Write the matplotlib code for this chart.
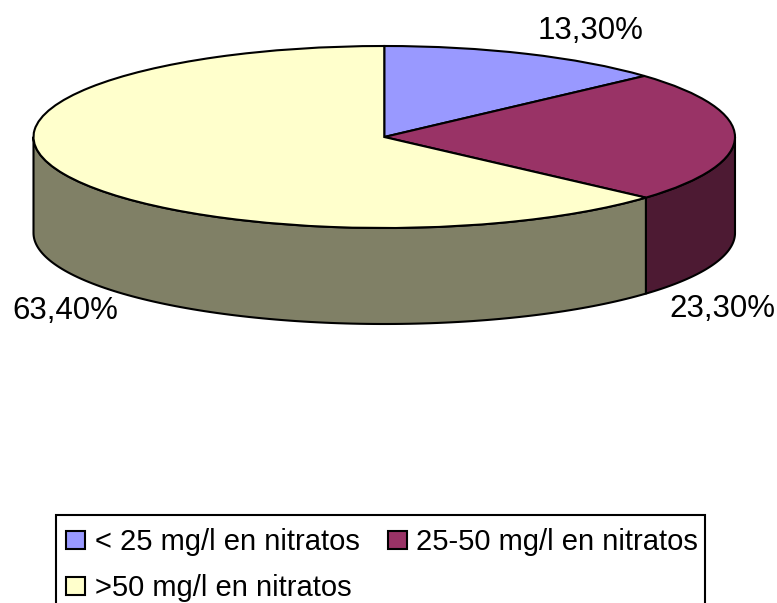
"""3D-look nitrate pie chart."""

import matplotlib

matplotlib.use("Agg")
import matplotlib.pyplot as plt
import numpy as np
from matplotlib.patches import Rectangle

CATEGORIES = ["< 25 mg/l en nitratos", "25-50 mg/l en nitratos", ">50 mg/l en nitratos"]
VALUES = [13.3, 23.3, 63.4]
TOP_COLORS = ["#9999FF", "#993366", "#FFFFCC"]
SIDE_COLORS = ["#4D4D80", "#4D1A33", "#808066"]

W, H = 777, 603
LEFT, RIGHT, TOP, BOTTOM = 33.5, 735, 46, 228
DEPTH = 96 / ((BOTTOM - TOP) / 2)
EDGE = 1.5

plt.rcParams["font.family"] = ["Liberation Sans", "DejaVu Sans"]

fig = plt.figure(figsize=(W / 100, H / 100), dpi=100, facecolor="white")
ax = fig.add_axes([LEFT / W, 1 - BOTTOM / H, (RIGHT - LEFT) / W, (BOTTOM - TOP) / H])

# top face
wedges, _ = ax.pie(
    VALUES,
    colors=TOP_COLORS,
    startangle=90,
    counterclock=False,
    wedgeprops={"edgecolor": "black", "linewidth": EDGE, "zorder": 3},
)
ax.set_aspect("auto")
ax.set_xlim(-1, 1)
ax.set_ylim(-1, 1)
ax.axis("off")

# side walls, only the part facing the viewer
bounds = np.concatenate([[0], np.cumsum(VALUES)]) / np.sum(VALUES) * 360
for i in range(len(VALUES)):
    a = max(bounds[i], 90)
    b = min(bounds[i + 1], 270)
    if b <= a:
        continue
    t = np.radians(np.linspace(a, b, 120))
    x = np.sin(t)
    y = np.cos(t)
    ax.fill(
        np.concatenate([x, x[::-1]]),
        np.concatenate([y, y[::-1] - DEPTH]),
        facecolor=SIDE_COLORS[i],
        edgecolor="black",
        linewidth=EDGE,
        joinstyle="round",
        clip_on=False,
        zorder=2,
    )

labels = [f"{v:.2f}".replace(".", ",") + "%" for v in VALUES]
label_pos = [(590.5, 31), (722, 309), (65.5, 311)]
for text, (px, py) in zip(labels, label_pos):
    fig.text(px / W, 1 - py / H, text, fontsize=22.5, ha="center", va="center", color="black")


def px_rect(x0, y0, x1, y1, **kwargs):
    # rectangle given in picture pixels, y down
    fig.add_artist(
        Rectangle((x0 / W, 1 - y1 / H), (x1 - x0) / W, (y1 - y0) / H, transform=fig.transFigure, **kwargs)
    )


# legend frame runs off the bottom of the picture
px_rect(55.5, 514.5, 705, 620, facecolor="white", edgecolor="black", linewidth=1.5)
legend_pos = [(66, 549, 95), (388, 549, 416), (66, 595, 95)]
for i, (hx, hy, tx) in enumerate(legend_pos):
    px_rect(hx, hy - 18, hx + 18.5, hy, facecolor=TOP_COLORS[i], edgecolor="black", linewidth=1.5)
    fig.text(
        tx / W,
        1 - (hy + 1.5) / H,
        CATEGORIES[i],
        fontsize=21,
        ha="left",
        va="baseline",
        color="black",
    )

fig.savefig("out.png", dpi=100)
